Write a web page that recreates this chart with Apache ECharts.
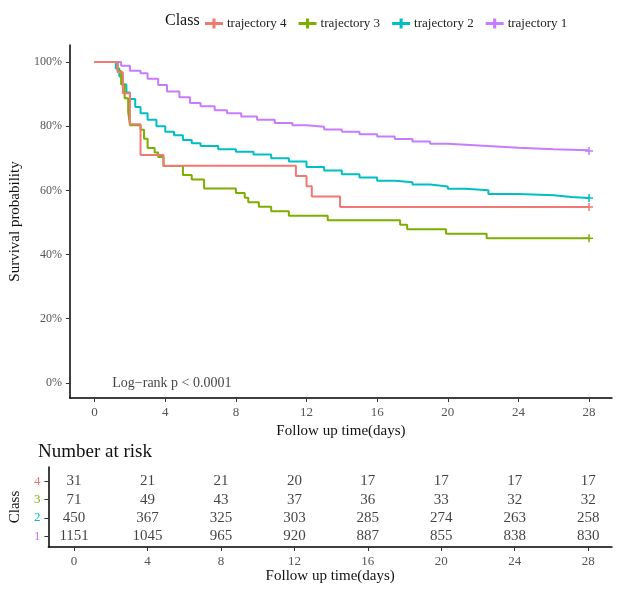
<!DOCTYPE html>
<html><head><meta charset="utf-8">
<script src="https://cdn.jsdelivr.net/npm/echarts@6/dist/echarts.min.js"></script>
<style>html,body{margin:0;background:#fff}#c{width:638px;height:592px}</style>
</head><body><div id="c"></div>
<script>
const classNames = ['trajectory 4','trajectory 3','trajectory 2','trajectory 1'];
const colors = ['#F07A73','#7CAE00','#00BFC4','#C77CFF'];
const t4 = [0,1.3,1.6,2.0,2.6,3.9,11.4,12.0,12.3,13.9,28];
const s4 = [100,96.8,90.3,80.6,71.0,67.7,64.5,61.3,58.1,54.8,54.8];
const t3 = [0,1.3,1.5,1.7,1.9,2.0,2.6,2.8,3.0,3.4,3.6,3.9,5.0,5.5,6.2,8.0,8.5,8.7,9.3,10.0,11.0,13.2,17.3,17.7,19.9,22.2,28];
const s3 = [100,97.2,93.0,88.7,84.5,80.3,78.9,76.1,73.2,71.8,70.4,67.6,64.8,63.4,60.6,59.2,57.7,56.3,54.9,53.5,52.1,50.7,49.3,47.9,46.5,45.1,45.1];
const t2 = [0,1.2,1.4,1.6,1.8,2.0,2.3,2.6,3.0,3.5,4.0,4.5,5.0,5.5,6.0,7.0,8.0,9.0,10.0,11.0,12.0,13.0,14.0,15.0,16.0,17.0,18.0,19.0,20.0,21.0,22.3,24.0,26.0,27.0,28];
const s2 = [100,98,95.5,93,90.5,88.5,86,84,82,80,78.3,77.2,75.7,74.7,73.8,72.8,72,71.2,70,69,67.3,66.2,65,64,63,62.5,61.8,61.2,60.5,60,58.9,58.5,57.9,57.6,57.6];
const t1 = [0,1.5,2.0,2.6,3.0,3.6,4.1,4.8,5.4,6.0,6.8,7.5,8.3,9.2,10.2,11.2,12.0,13.0,14.0,15.0,16.0,17.0,18.0,19.0,20.0,22.0,24.0,26.0,28];
const s1 = [100,98.8,97.3,96.5,94.8,92.8,90.8,89,87.2,86.2,85,84,83,82,81,80.3,79.8,79,78.3,77.5,76.8,76,75.2,74.5,73.9,73.3,72.8,72.5,72.3];
const riskTimes = [0,4,8,12,16,20,24,28];
const risk4 = [31,21,21,20,17,17,17,17];
const risk3 = [71,49,43,37,36,33,32,32];
const risk2 = [450,367,325,303,285,274,263,258];
const risk1 = [1151,1045,965,920,887,855,838,830];
const xTicks = [0,4,8,12,16,20,24,28];
const yTicks = [0,20,40,60,80,100];

const plus = 'path://M0 5L10 5M5 0L5 10Z';
const plusIcon = 'path://M0 4.6L12 4.6L12 5.4L0 5.4ZM5.6 2L6.4 2L6.4 8L5.6 8Z';
const F = 'Liberation Serif';
function km(t,s){
  return t.map((x,i)=> i===t.length-1 ? {value:[x,s[i]],symbol:plus,symbolSize:8} : [x,s[i]]);
}
const times=[t4,t3,t2,t1], survs=[s4,s3,s2,s1];
const series = classNames.map((n,i)=>({
  name:n,type:'line',step:'end',xAxisIndex:0,yAxisIndex:0,
  data:km(times[i],survs[i]),symbol:'none',showSymbol:true,
  lineStyle:{color:colors[i],width:2},itemStyle:{color:colors[i],borderColor:colors[i],borderWidth:1.5},
  emphasis:{disabled:true},z:10-i
}));
const risks=[risk4,risk3,risk2,risk1];
risks.forEach((r,i)=>{
  series.push({type:'scatter',xAxisIndex:1,yAxisIndex:1,symbolSize:0,silent:true,
    data:r.map((v,j)=>[riskTimes[j],4-i,v]),
    label:{show:true,position:'inside',formatter:p=>p.data[2],color:'#111',fontFamily:F,fontSize:15}});
});
const axLine = {onZero:false,lineStyle:{color:'#000',width:1.5}};
const cfg = {axisLine:axLine,splitLine:{show:false}};
const chart = echarts.init(document.getElementById('c'));
chart.setOption({
  animation:false,
  legend:{top:12,left:200,data:classNames,icon:plusIcon,itemWidth:16,itemHeight:10,itemGap:12,
    textStyle:{fontFamily:F,fontSize:13,color:'#222'}},
  graphic:[
    {type:'text',left:165,top:13,style:{text:'Class',font:'16px "Liberation Serif"',fill:'#111'}},
    {type:'text',left:38,top:443,style:{text:'Number at risk',font:'19px "Liberation Serif"',fill:'#111'}}
  ],
  grid:[{left:62,right:26,top:45,height:353,containLabel:false},{left:40,right:26,top:467,height:80,containLabel:false}],
  xAxis:[
    Object.assign({},cfg,{type:'value',gridIndex:0,min:-1.4,max:29.3,
      axisTick:{customValues:xTicks,lineStyle:{color:'#333'},length:4},
      axisLabel:{customValues:xTicks,color:'#555',fontFamily:F,fontSize:13},
      name:'Follow up time(days)',nameLocation:'middle',nameGap:22,nameTextStyle:{fontFamily:F,fontSize:15,color:'#111'}}),
    Object.assign({},cfg,{type:'value',gridIndex:1,min:-1.4,max:29.3,
      axisTick:{customValues:riskTimes,lineStyle:{color:'#333'},length:4},
      axisLabel:{customValues:riskTimes,color:'#555',fontFamily:F,fontSize:13},
      name:'Follow up time(days)',nameLocation:'middle',nameGap:22,nameTextStyle:{fontFamily:F,fontSize:15,color:'#111'}})
  ],
  yAxis:[
    Object.assign({},cfg,{type:'value',gridIndex:0,min:-4.7,max:105.3,
      axisTick:{customValues:yTicks,lineStyle:{color:'#333'},length:4},
      axisLabel:{customValues:yTicks,formatter:v=>v+'%',color:'#555',fontFamily:F,fontSize:12},
      name:'Survival probability',nameLocation:'middle',nameGap:38,nameTextStyle:{fontFamily:F,fontSize:15,color:'#111'}}),
    Object.assign({},cfg,{type:'value',gridIndex:1,min:0.4,max:4.8,
      axisTick:{customValues:[1,2,3,4],lineStyle:{color:'#333'},length:4},
      axisLabel:{customValues:[1,2,3,4],fontFamily:F,fontSize:13,
        color:v=>({1:colors[3],2:colors[2],3:colors[1],4:colors[0]})[v]},
      name:'Class',nameLocation:'middle',nameGap:16,nameTextStyle:{fontFamily:F,fontSize:15,color:'#111'}})
  ],
  series:series.concat([{type:'scatter',xAxisIndex:0,yAxisIndex:0,symbolSize:0,silent:true,data:[[1,0]],
    label:{show:true,position:'right',formatter:'Log\u2212rank p < 0.0001',color:'#111',fontFamily:F,fontSize:14,offset:[-5,0]}}])
});
</script></body></html>
